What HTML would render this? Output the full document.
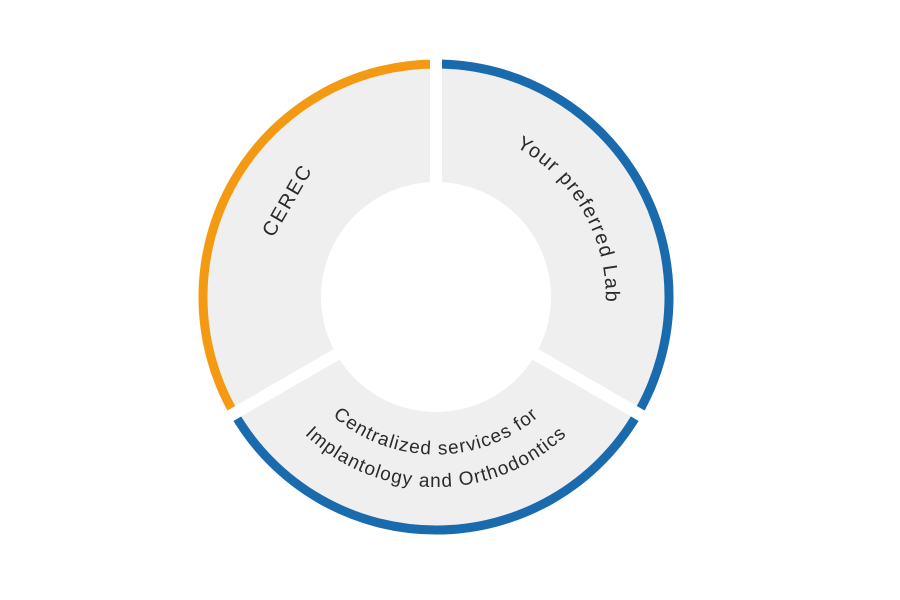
<!DOCTYPE html>
<html><head><meta charset="utf-8"><style>
html,body{margin:0;padding:0;background:#fff;width:900px;height:600px;overflow:hidden}
text{font-family:"Liberation Sans",sans-serif;fill:#2a2a2a;}
</style></head><body>
<svg width="900" height="600" viewBox="0 0 900 600" xmlns="http://www.w3.org/2000/svg">
<defs>
<path id="b1" d="M 299.4 375.9 A 158 158 0 0 0 572.6 375.9"/>
<path id="b2" d="M 271.4 392 A 190 190 0 0 0 600.6 392"/>
<path id="r1" d="M 436 127 A 170 170 0 0 1 583 382"/>
</defs>
<circle cx="436" cy="297" r="233" fill="#efefef"/>
<circle cx="436" cy="297" r="115" fill="#fff"/>
<path d="M 234.2 413.5 A 233 233 0 0 1 436 64" fill="none" stroke="#f39a12" stroke-width="9"/>
<path d="M 436 64 A 233 233 0 0 1 637.8 413.5" fill="none" stroke="#1a6aae" stroke-width="9"/>
<path d="M 637.8 413.5 A 233 233 0 0 1 234.2 413.5" fill="none" stroke="#1a6aae" stroke-width="9"/>
<g stroke="#fff" stroke-width="12">
<line x1="436" y1="297" x2="436" y2="40"/>
<line x1="436" y1="297" x2="662" y2="427.5"/>
<line x1="436" y1="297" x2="210" y2="427.5"/>
</g>
<text x="287" y="207" font-size="20" letter-spacing="2" text-anchor="middle" transform="rotate(-60 287 200)">CEREC</text>
<text font-size="20" letter-spacing="1.3"><textPath href="#r1" startOffset="50%" text-anchor="middle">Your preferred Lab</textPath></text>
<text font-size="19" letter-spacing="1.1"><textPath href="#b1" startOffset="50%" text-anchor="middle">Centralized services for</textPath></text>
<text font-size="19" letter-spacing="1.1"><textPath href="#b2" startOffset="50%" text-anchor="middle">Implantology and Orthodontics</textPath></text>
</svg>
</body></html>
